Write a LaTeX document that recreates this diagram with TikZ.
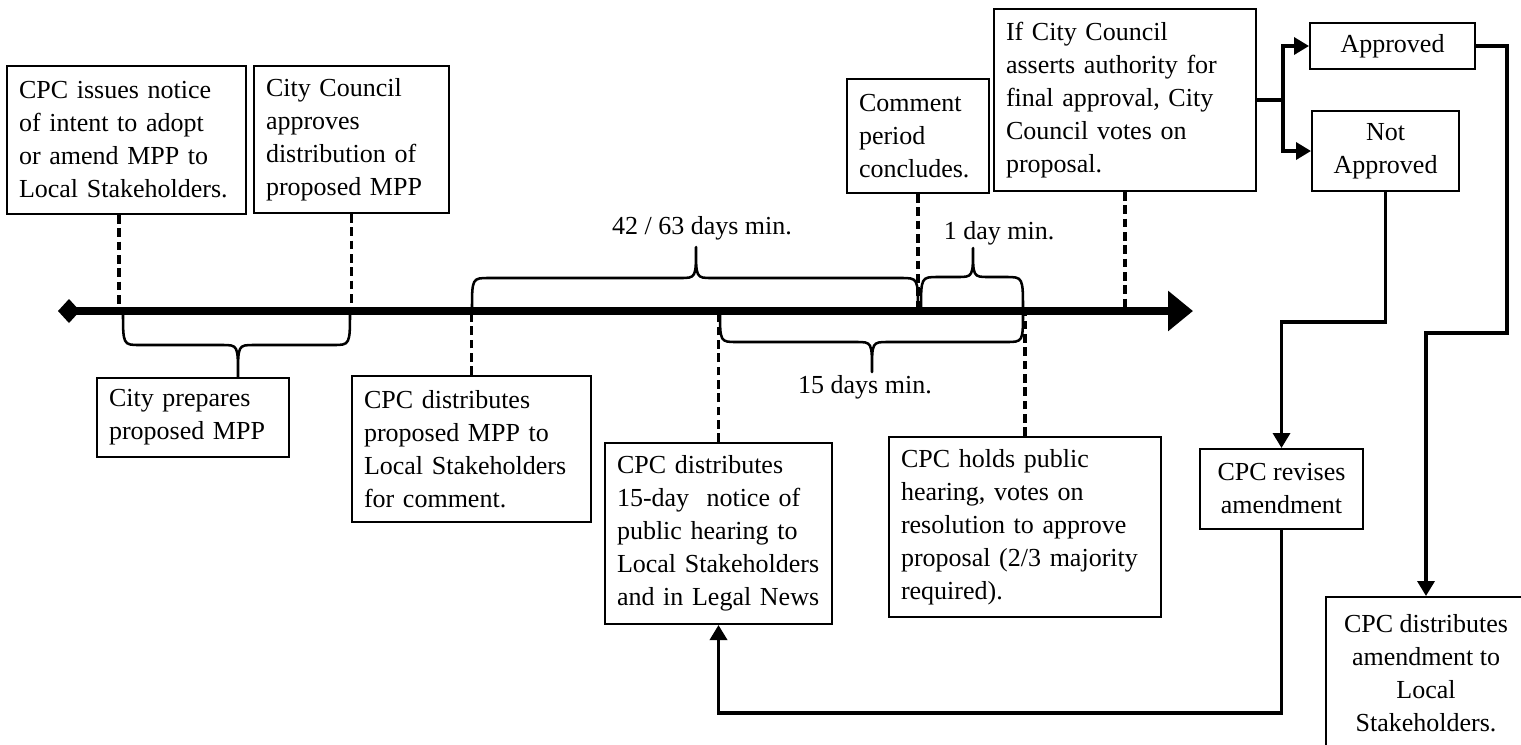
\documentclass[tikz,border=0pt]{standalone}
\usepackage{fontspec}
\setmainfont{Liberation Serif}
\usetikzlibrary{arrows.meta}
\newcommand\hbrace[6]{% x1, x2, xt, y0, ym, yt
  \draw[bracestyle] (#1,#4) .. controls (#1,#5) .. ({#1+17},#5) -- ({#3-16},#5)
    .. controls (#3,#5) .. (#3,#6) .. controls (#3,#5) .. ({#3+16},#5)
    -- ({#2-17},#5) .. controls (#2,#5) .. (#2,#4);}
\begin{document}
\begin{tikzpicture}[x=0.75pt,y=-0.75pt,
  txt/.style={font=\fontsize{19.5pt}{24.75pt}\selectfont},
  box/.style={txt, draw, line width=1.5pt, inner xsep=9pt, inner ysep=0pt, align=left},
  cbox/.style={box, align=center},
  dashline/.style={line width=2.7pt, dash pattern=on 6.5pt off 3.5pt},
  conn/.style={line width=2.6pt, -{Triangle[length=11.25pt,width=12.75pt]}},
  bracestyle/.style={line width=1.9pt, line join=round, line cap=round},
  lab/.style={txt, inner sep=0pt}]
\useasboundingbox (0,0) rectangle (1521,744);

% boxes
\node[box, minimum width=179.25pt, minimum height=111pt, text width=161.25pt] (A) at (126.5,140)
  {CPC issues notice\\of intent to adopt\\or amend MPP to\\Local Stakeholders.};
\node[box, minimum width=146.25pt, minimum height=110.25pt, text width=128.25pt] (B) at (351.5,139.5)
  {City Council\\approves\\distribution of\\proposed MPP};
\node[box, minimum width=144pt, minimum height=59.25pt, text width=126pt] (P) at (193,417.5)
  {City prepares\\proposed MPP};
\node[box, minimum width=179.25pt, minimum height=109.5pt, text width=161.25pt] (C) at (471.5,449)
  {CPC distributes\\proposed MPP to\\Local Stakeholders\\for comment.};
\node[box, minimum width=170.25pt, minimum height=135.75pt, text width=152.25pt] (D) at (718.5,533.5)
  {CPC distributes\\15-day\ \ notice of\\public hearing to\\Local Stakeholders\\and in Legal News};
\node[box, minimum width=204pt, minimum height=135pt, text width=186pt] (E) at (1025,527)
  {CPC holds public\\hearing, votes on\\resolution to approve\\proposal (2/3 majority\\required).};
\node[box, minimum width=106.5pt, minimum height=85.5pt, text width=88.5pt] (CC) at (918,136)
  {Comment\\period\\concludes.};
\node[box, minimum width=196.5pt, minimum height=136.5pt, text width=178.5pt] (IF) at (1125,100)
  {If City Council\\asserts authority for\\final approval, City\\Council votes on\\proposal.};
\node[cbox, minimum width=123.75pt, minimum height=34.5pt] (AP) at (1392.5,46) {Approved};
\node[cbox, minimum width=110.25pt, minimum height=60pt] (NA) at (1385.5,151) {Not\\Approved};
\node[cbox, minimum width=122.25pt, minimum height=60pt] (RV) at (1281.5,489) {CPC revises\\amendment};
\node[cbox, minimum width=150pt, minimum height=114.75pt] (DA) at (1426,673.5)
  {CPC distributes\\amendment to\\Local\\Stakeholders.};

% labels
\node[lab] (L1) at (702,228) {42 / 63 days min.};
\node[lab] (L2) at (999,233) {1 day min.};
\node[lab] (L3) at (865,387) {15 days min.};

% timeline coordinates
\coordinate (tl0) at (58,311);
\coordinate (tl1) at (1193,311);
\coordinate (tA) at (119,311);

% dashed ties
\draw[dashline] (A.south -| tA) -- (tA);
\draw[dashline] (B.south) -- (B.south |- tl0);
\draw[dashline] (C.north) -- (C.north |- tl0);
\draw[dashline] (D.north) -- (D.north |- tl0);
\draw[dashline] (CC.south) -- (CC.south |- tl0);
\draw[dashline] (E.north) -- (E.north |- tl0);
\draw[dashline] (IF.south) -- (IF.south |- tl0);

% braces
\hbrace{123}{350}{238}{311}{345}{377}
\hbrace{472}{918}{696}{311}{278}{247}
\hbrace{921}{1023}{973}{311}{277}{248}
\hbrace{720}{1023}{872}{311}{342}{372}

% timeline
\draw[line width=6pt, {Diamond[length=16.5pt,width=18pt]}-{Triangle[length=18.75pt,width=29.25pt]}] (tl0) -- (tl1);

% flow connectors
\coordinate (split) at (1283,100);
\draw[line width=2.6pt] (IF.east) -- (split);
\draw[conn] (split) |- (AP.west);
\draw[conn] (split) |- (NA.west);
\draw[conn] (AP.east) -- ++(31,0) -- ++(0,287) -| (DA.north);
\draw[conn] (NA.south) -- ++(0,130) -| (RV.north);
\draw[conn] (RV.south) -- ++(0,183) -| (D.south);
\end{tikzpicture}
\end{document}
